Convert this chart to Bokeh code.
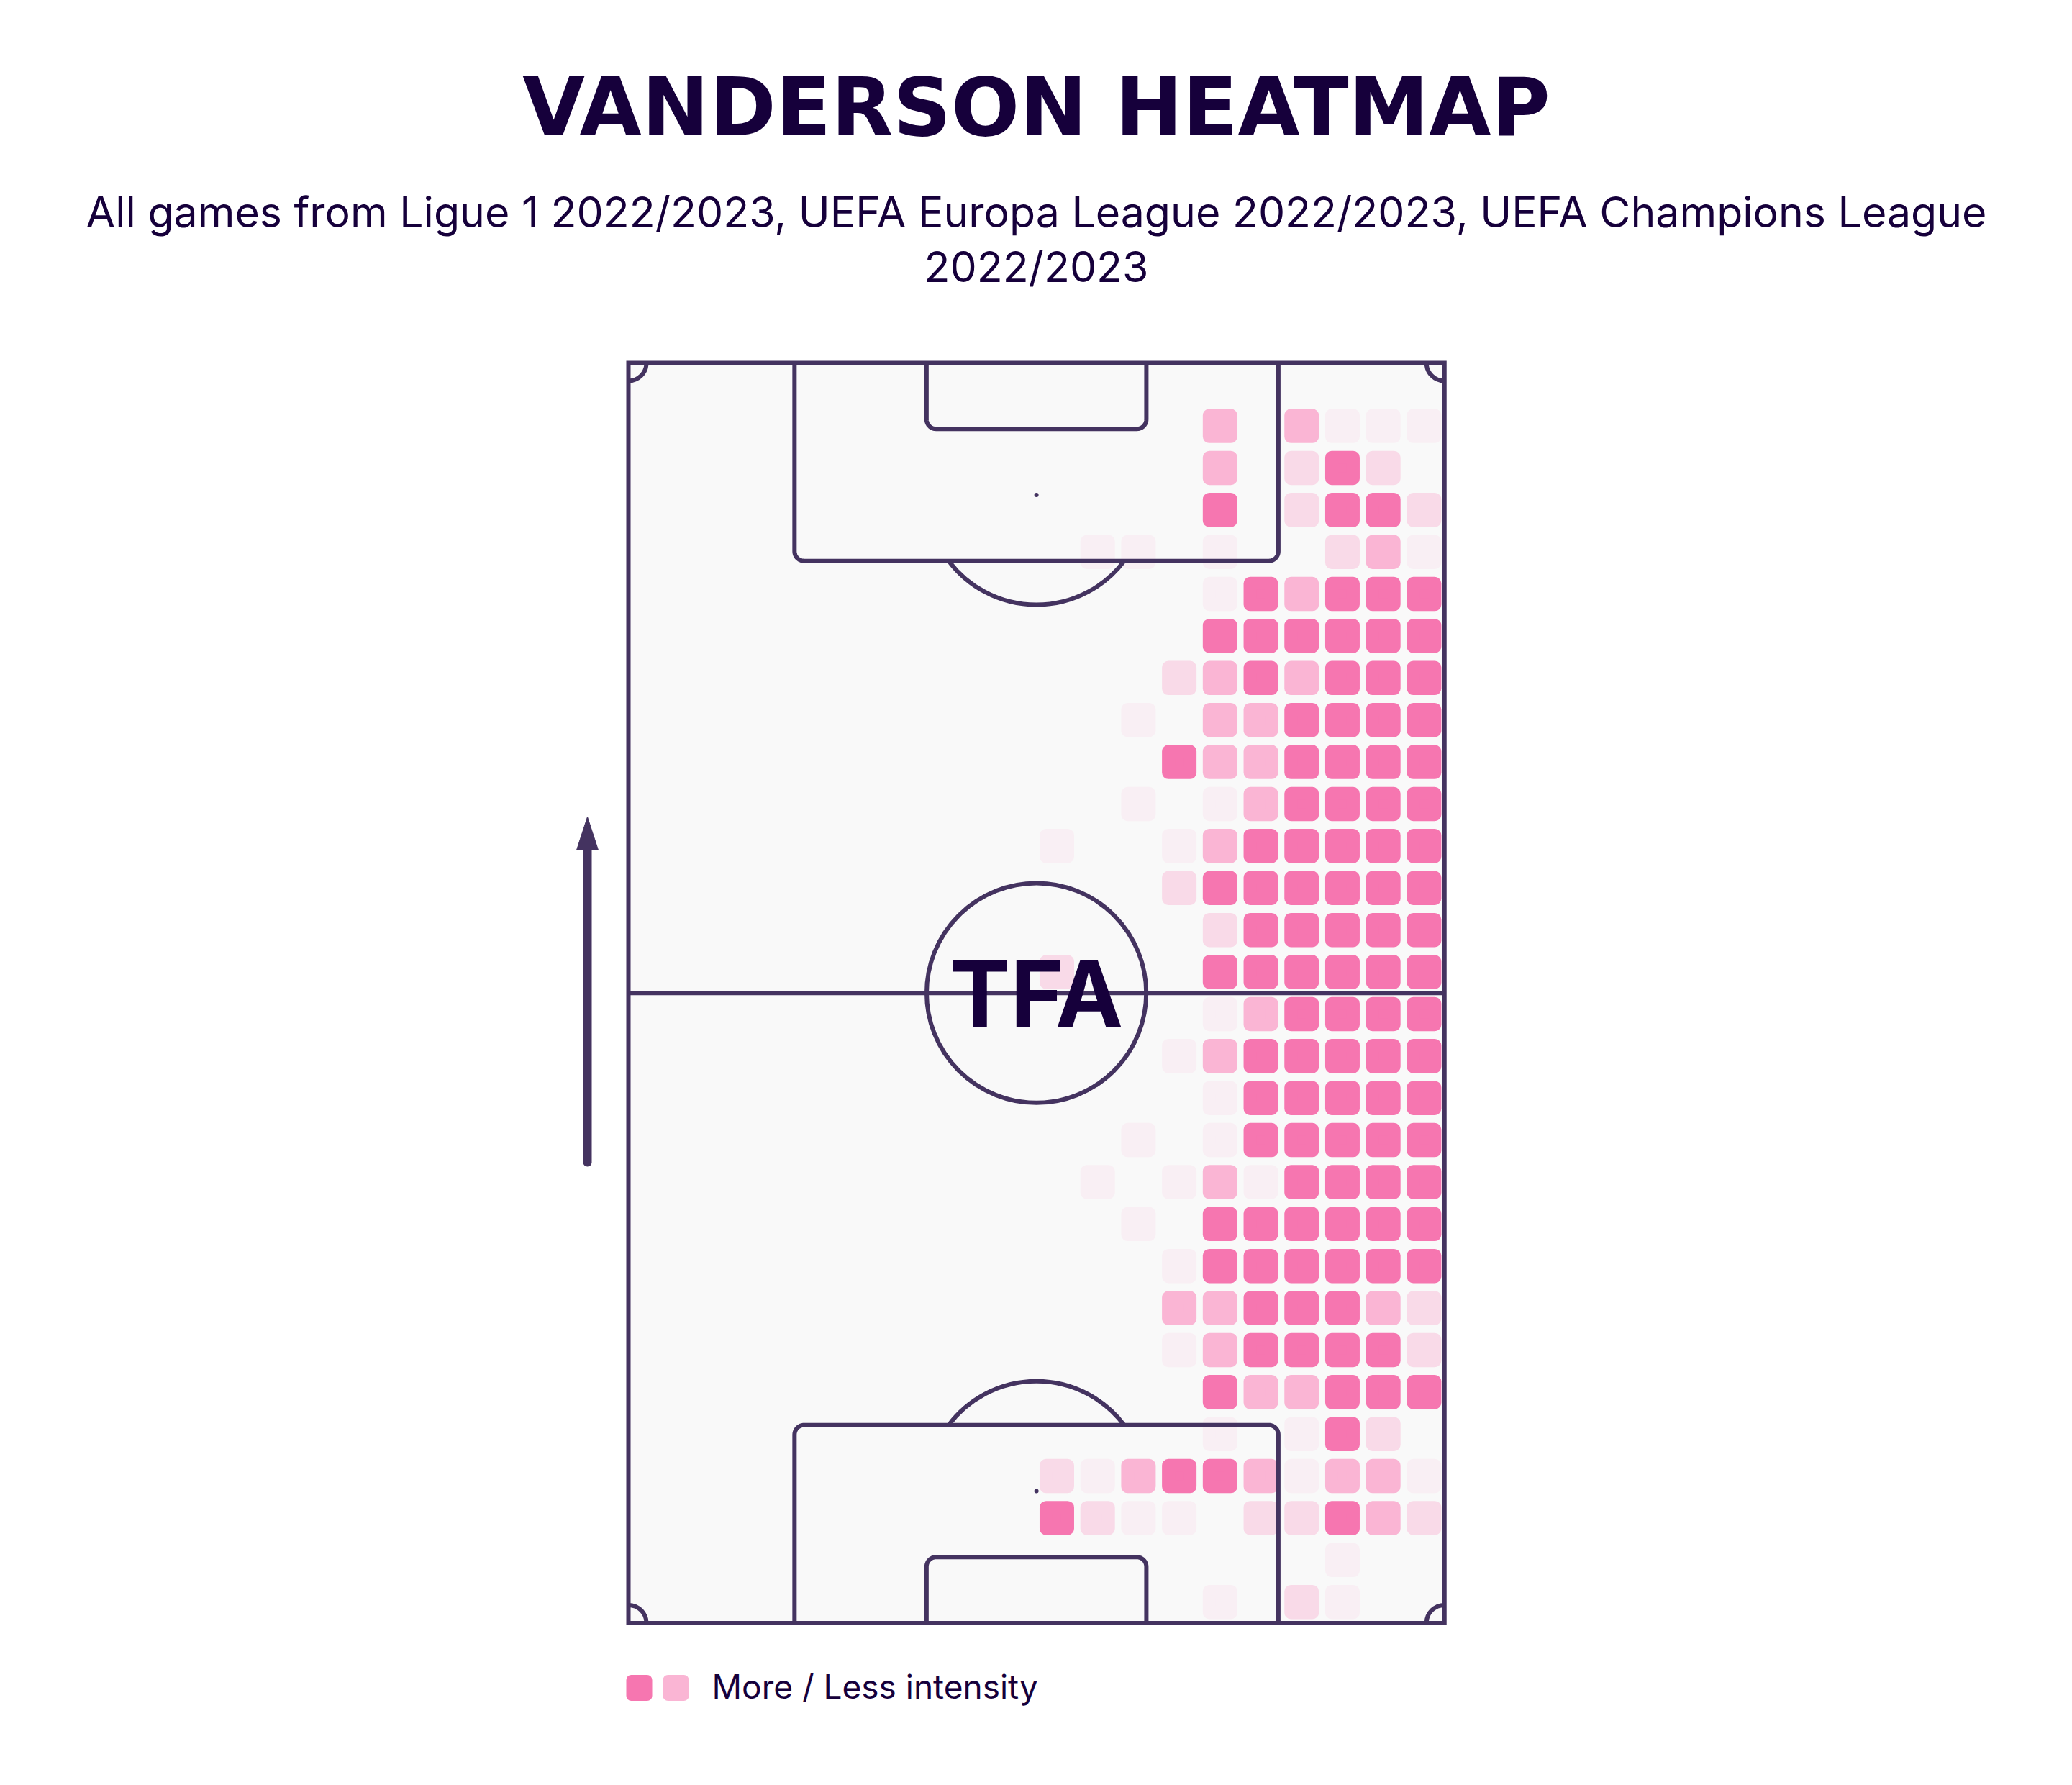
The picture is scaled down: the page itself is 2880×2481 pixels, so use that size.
import numpy as np
from bokeh.plotting import figure
from bokeh.models import Range1d
from bokeh.core.properties import value
from bokeh.embed import file_html
from bokeh.resources import INLINE

# ---------------- texts ----------------
title_text = "VANDERSON HEATMAP"
subtitle_lines = [
    "All games from Ligue 1 2022/2023, UEFA Europa League 2022/2023, UEFA Champions League",
    "2022/2023",
]
legend_text = "More / Less intensity"
logo_text = "TFA"

# ---------------- data ----------------
pitch_length = 105.0   # metres, attacking upward
pitch_width = 68.0
n_cols = 20
n_rows = 30
# intensity level per zone: 0 none, 1 faint ... 4 most; row 0 = attacking end (top), col 0 = left touchline
intensity_rows = [
    "00000000000000000000",
    "00000000000000303111",
    "00000000000000302420",
    "00000000000000402442",
    "00000000000110100231",
    "00000000000000143444",
    "00000000000000444444",
    "00000000000002343444",
    "00000000000010334444",
    "00000000000004334444",
    "00000000000010134444",
    "00000000001001344444",
    "00000000000002444444",
    "00000000000000244444",
    "00000000002000444444",
    "00000000000000134444",
    "00000000000001344444",
    "00000000000000144444",
    "00000000000010144444",
    "00000000000101314444",
    "00000000000010444444",
    "00000000000001444444",
    "00000000000003344432",
    "00000000000001344442",
    "00000000000000433444",
    "00000000000000101420",
    "00000000002134431331",
    "00000000004211022432",
    "00000000000000000100",
    "00000000000000102100",
]
level_colors = {1: "#F9EFF4", 2: "#F9DAE8", 3: "#FAB5D4", 4: "#F676B0"}
legend_levels = [4, 3]

# ---------------- styles ----------------
INK = "#16003B"
LINE = "#443360"
PITCH_BG = "#F9F9F9"
LW = 6

W, H = 2864, 2465
S = 16.68                  # px per metre
X0, Y0 = 873.0, 504.0      # page px of pitch top-left corner
TXT = 0.385                # empirical baseline correction (fraction of font size)


def dx(page_x):
    return (page_x - X0) / S


def dy(page_y):
    return pitch_length - (page_y - Y0) / S


def ty(page_baseline, size):
    return dy(page_baseline - TXT * size)


p = figure(width=W, height=H, output_backend="svg", toolbar_location=None,
           x_range=Range1d(dx(0), dx(W)), y_range=Range1d(dy(H), dy(0)),
           min_border=0, background_fill_color="white", border_fill_color="white")
p.axis.visible = False
p.grid.visible = False
p.outline_line_color = None

# pitch background
p.quad(left=[0], right=[pitch_width], bottom=[0], top=[pitch_length],
       fill_color=PITCH_BG, line_color=None)

# heat cells
cw, ch = pitch_width / n_cols, pitch_length / n_rows
xs, ys, cols = [], [], []
for i, row in enumerate(intensity_rows):
    for j, c in enumerate(row):
        lv = int(c)
        if lv > 0:
            xs.append((j + 0.5) * cw)
            ys.append(pitch_length - (i + 0.5) * ch)
            cols.append(level_colors[lv])
R = 9
p.rect(x=xs, y=ys, width=48 - 2 * R, height=47.5 - 2 * R,
       width_units="screen", height_units="screen",
       fill_color=cols, line_color=cols, line_width=2 * R, line_join="round")

# pitch lines
p.quad(left=[0], right=[pitch_width], bottom=[0], top=[pitch_length],
       fill_alpha=0, line_color=LINE, line_width=LW, line_join="miter")
p.segment(x0=[0], y0=[pitch_length / 2], x1=[pitch_width], y1=[pitch_length / 2],
          line_color=LINE, line_width=LW)
p.arc(x=[pitch_width / 2], y=[pitch_length / 2], radius=9.15, start_angle=0,
      end_angle=2 * np.pi, line_color=LINE, line_width=LW)


def box_path(x0, x1, y_goal, depth, r, s):
    yb = y_goal + s * depth
    pts_x = [x0]
    pts_y = [y_goal]
    cx, cy = x0 + r, yb - s * r
    a = np.radians(np.linspace(180, 180 - s * 90, 12))
    pts_x += list(cx + r * np.cos(a))
    pts_y += list(cy + r * np.sin(a))
    cx = x1 - r
    a = np.radians(np.linspace(180 - s * 90, 180 - s * 180, 12))
    pts_x += list(cx + r * np.cos(a))
    pts_y += list(cy + r * np.sin(a))
    pts_x.append(x1)
    pts_y.append(y_goal)
    return pts_x, pts_y


mid = pitch_width / 2
for y_goal, s in [(pitch_length, -1), (0.0, 1)]:
    bx, by = box_path(mid - 20.16, mid + 20.16, y_goal, 16.5, 0.8, s)
    p.line(bx, by, line_color=LINE, line_width=LW, line_join="round")
    gx, gy = box_path(mid - 9.16, mid + 9.16, y_goal, 5.5, 0.8, s)
    p.line(gx, gy, line_color=LINE, line_width=LW, line_join="round")

# penalty arcs
ang = np.degrees(np.arcsin(5.5 / 9.15))
p.arc(x=[mid], y=[pitch_length - 11], radius=9.15,
      start_angle=np.radians(180 + ang), end_angle=np.radians(360 - ang),
      direction="anticlock", line_color=LINE, line_width=LW)
p.arc(x=[mid], y=[11], radius=9.15,
      start_angle=np.radians(ang), end_angle=np.radians(180 - ang),
      direction="anticlock", line_color=LINE, line_width=LW)

# corner arcs
for cx, cy, a0 in [(0, 0, 0), (pitch_width, 0, 90), (pitch_width, pitch_length, 180), (0, pitch_length, 270)]:
    p.arc(x=[cx], y=[cy], radius=1.5, start_angle=np.radians(a0), end_angle=np.radians(a0 + 90),
          direction="anticlock", line_color=LINE, line_width=LW)

# spots
p.scatter(x=[mid, mid, mid], y=[11, pitch_length - 11, pitch_length / 2], size=6,
          fill_color=LINE, line_color=None)

# logo
p.text(x=[mid], y=[ty(1429, 126)], text=[logo_text], text_font=value("Inter"),
       text_font_style="bold", text_font_size="126px", text_color=INK,
       text_align="center", text_baseline="alphabetic")

# direction arrow
ax = dx(816)
p.segment(x0=[ax], y0=[dy(1615)], x1=[ax], y1=[dy(1178)], line_color=LINE,
          line_width=12, line_cap="round")
p.patch(x=[dx(801), dx(831), dx(816)], y=[dy(1181), dy(1181), dy(1135)],
        fill_color=LINE, line_color=LINE, line_width=1)

# title & subtitle
p.text(x=[dx(1440)], y=[ty(192, 112)], text=[title_text], text_font=value("DejaVu Sans"),
       text_font_style="bold", text_font_size="112px", text_color=INK,
       text_align="center", text_baseline="alphabetic")
p.text(x=[dx(1440), dx(1440)], y=[ty(317, 59), ty(393, 59)], text=subtitle_lines,
       text_font=value("Inter"), text_font_size="59px", text_color=INK,
       text_align="center", text_baseline="alphabetic")

# legend
lx = [dx(888), dx(939)]
lcol = [level_colors[l] for l in legend_levels]
p.rect(x=lx, y=[dy(2345.5)] * 2, width=36 - 14, height=36 - 14,
       width_units="screen", height_units="screen",
       fill_color=lcol, line_color=lcol, line_width=14, line_join="round")
p.text(x=[dx(989)], y=[ty(2361, 46)], text=[legend_text], text_font=value("Inter"),
       text_font_size="46px", text_color=INK, text_align="left",
       text_baseline="alphabetic")

open("out.html", "w").write(file_html(p, INLINE))
